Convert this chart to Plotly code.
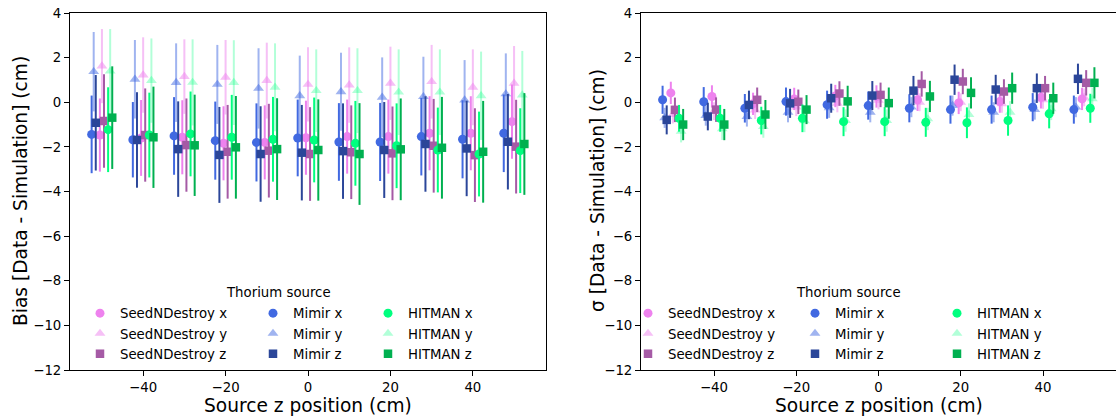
import plotly.graph_objects as go

# ---------------- data ----------------
z_positions = [-50, -40, -30, -20, -10, 0, 10, 20, 30, 40, 50]
x_ticks = [-40, -20, 0, 20, 40]
y_ticks = [-12, -10, -8, -6, -4, -2, 0, 2, 4]

series_names = ["SeedNDestroy x", "SeedNDestroy y", "SeedNDestroy z",
                "Mimir x", "Mimir y", "Mimir z",
                "HITMAN x", "HITMAN y", "HITMAN z"]

# Bias [Data - Simulation] (cm)
bias_snd_x = [-1.47, -1.60, -1.57, -1.84, -1.80, -1.59, -1.54, -1.54, -1.39, -1.39, -0.87]
bias_snd_y = [1.62, 1.22, 1.15, 1.12, 0.97, 0.80, 0.77, 0.85, 0.92, 0.67, 0.85]
bias_snd_z = [-0.84, -1.47, -1.92, -2.22, -2.17, -2.32, -2.24, -2.29, -1.95, -2.37, -1.99]
bias_mim_x = [-1.44, -1.68, -1.51, -1.72, -1.80, -1.60, -1.78, -1.78, -1.54, -1.66, -1.39]
bias_mim_y = [1.37, 1.03, 0.88, 0.80, 0.62, 0.29, 0.47, 0.22, 0.25, 0.10, 0.37]
bias_mim_z = [-0.92, -1.69, -2.10, -2.36, -2.32, -2.26, -2.19, -2.14, -1.87, -2.07, -1.77]
bias_hit_x = [-1.23, -1.47, -1.42, -1.57, -1.66, -1.69, -1.84, -1.95, -2.14, -2.32, -2.17]
bias_hit_y = [1.39, 0.97, 0.89, 0.88, 0.67, 0.52, 0.52, 0.45, 0.45, 0.29, 0.32]
bias_hit_z = [-0.69, -1.57, -1.93, -2.02, -2.10, -2.14, -2.32, -2.11, -2.04, -2.22, -1.87]

bias_err_snd_x = [1.64, 1.70, 1.66, 1.66, 1.66, 1.66, 1.66, 1.66, 1.66, 1.66, 1.66]
bias_err_snd_y = [1.66, 1.69, 1.67, 1.67, 1.70, 1.66, 1.69, 1.64, 1.65, 1.70, 1.67]
bias_err_snd_z = [2.10, 2.09, 2.09, 2.10, 2.10, 2.10, 2.10, 2.10, 2.10, 2.10, 2.10]
bias_err_mim_x = [1.74, 1.69, 1.74, 1.75, 1.75, 1.72, 1.74, 1.75, 1.74, 1.75, 1.74]
bias_err_mim_y = [1.78, 1.76, 1.76, 1.77, 1.80, 1.80, 1.75, 1.79, 1.79, 1.79, 1.82]
bias_err_mim_z = [2.14, 2.14, 2.14, 2.15, 2.14, 2.14, 2.14, 2.15, 2.14, 2.14, 2.14]
bias_err_hit_x = [1.90, 1.90, 1.90, 1.90, 1.90, 1.90, 1.90, 1.90, 1.90, 1.90, 1.90]
bias_err_hit_y = [1.89, 1.89, 1.93, 1.90, 1.97, 1.85, 1.90, 1.92, 1.92, 1.98, 1.98]
bias_err_hit_z = [2.30, 2.27, 2.27, 2.30, 2.28, 2.27, 2.28, 2.28, 2.28, 2.28, 2.28]

# sigma [Data - Simulation] (cm)
sig_snd_x = [0.42, 0.26, -0.07, 0.15, 0.28, 0.26, 0.11, -0.03, 0.03, 0.22, 0.15]
sig_snd_y = [-0.55, -0.40, -0.35, -0.22, -0.05, 0.08, 0.00, 0.00, -0.07, 0.11, 0.22]
sig_snd_z = [-0.34, -0.33, 0.11, 0.02, 0.39, 0.33, 0.82, 0.93, 0.48, 0.63, 0.87]
sig_mim_x = [0.11, 0.02, -0.27, 0.03, -0.11, -0.15, -0.27, -0.33, -0.33, -0.22, -0.33]
sig_mim_y = [-0.70, -0.60, -0.64, -0.45, -0.25, -0.45, -0.22, -0.15, -0.45, -0.33, -0.22]
sig_mim_z = [-0.79, -0.64, -0.12, -0.05, 0.18, 0.30, 0.52, 1.01, 0.57, 0.63, 1.05]
sig_hit_x = [-0.72, -0.72, -0.82, -0.72, -0.87, -0.87, -0.90, -0.92, -0.82, -0.52, -0.27]
sig_hit_y = [-1.30, -1.19, -1.09, -0.84, -0.82, -0.82, -0.75, -0.55, -0.45, -0.30, 0.15]
sig_hit_z = [-1.00, -1.00, -0.55, -0.33, 0.04, -0.04, 0.26, 0.42, 0.63, 0.18, 0.87]

sig_err_snd_x = [0.50, 0.50, 0.50, 0.50, 0.50, 0.50, 0.50, 0.50, 0.50, 0.50, 0.50]
sig_err_snd_y = [0.40, 0.40, 0.40, 0.40, 0.40, 0.40, 0.40, 0.40, 0.40, 0.40, 0.40]
sig_err_snd_z = [0.55, 0.55, 0.55, 0.55, 0.55, 0.55, 0.57, 0.57, 0.55, 0.55, 0.57]
sig_err_mim_x = [0.63, 0.66, 0.64, 0.63, 0.63, 0.63, 0.63, 0.63, 0.63, 0.63, 0.63]
sig_err_mim_y = [0.45, 0.45, 0.45, 0.45, 0.45, 0.45, 0.45, 0.45, 0.45, 0.45, 0.45]
sig_err_mim_z = [0.65, 0.62, 0.64, 0.65, 0.65, 0.65, 0.66, 0.68, 0.66, 0.66, 0.68]
sig_err_hit_x = [0.60, 0.60, 0.62, 0.62, 0.65, 0.65, 0.65, 0.69, 0.68, 0.65, 0.65]
sig_err_hit_y = [0.50, 0.50, 0.50, 0.50, 0.50, 0.50, 0.50, 0.50, 0.50, 0.50, 0.50]
sig_err_hit_z = [0.70, 0.70, 0.65, 0.65, 0.70, 0.70, 0.70, 0.70, 0.70, 0.70, 0.70]

bias_values = [bias_snd_x, bias_snd_y, bias_snd_z, bias_mim_x, bias_mim_y, bias_mim_z,
               bias_hit_x, bias_hit_y, bias_hit_z]
bias_errors = [bias_err_snd_x, bias_err_snd_y, bias_err_snd_z, bias_err_mim_x, bias_err_mim_y,
               bias_err_mim_z, bias_err_hit_x, bias_err_hit_y, bias_err_hit_z]
sig_values = [sig_snd_x, sig_snd_y, sig_snd_z, sig_mim_x, sig_mim_y, sig_mim_z,
              sig_hit_x, sig_hit_y, sig_hit_z]
sig_errors = [sig_err_snd_x, sig_err_snd_y, sig_err_snd_z, sig_err_mim_x, sig_err_mim_y,
              sig_err_mim_z, sig_err_hit_x, sig_err_hit_y, sig_err_hit_z]

# ---------------- style ----------------
colors = ["#EE82EE", "rgba(238,130,238,0.5)", "#A55AA5",
          "#4169E1", "rgba(65,105,225,0.5)", "#2B4699",
          "#00FF7F", "rgba(0,255,127,0.3)", "#00B050"]
symbols = ["circle", "triangle-up", "square"] * 3
sizes = [9, 9.5, 8.5] * 3
dodge = [-0.5, 0.0, 0.5, -2.5, -2.0, -1.5, 1.5, 2.0, 2.5]

FONT = "DejaVu Sans"
W, H = 1116, 419

fig = go.Figure()

for panel, (vals, errs) in enumerate([(bias_values, bias_errors), (sig_values, sig_errors)]):
    for i, name in enumerate(series_names):
        leg_idx = panel * 3 + i // 3 + 1
        legend_name = "legend" if leg_idx == 1 else f"legend{leg_idx}"
        fig.add_trace(go.Scatter(
            x=[z + dodge[i] for z in z_positions],
            y=vals[i],
            mode="markers",
            name=name,
            legend=legend_name,
            marker=dict(symbol=symbols[i], size=sizes[i], color=colors[i], line=dict(width=0)),
            error_y=dict(type="data", array=errs[i], visible=True, color=colors[i],
                         thickness=2, width=0),
            xaxis="x" if panel == 0 else "x2",
            yaxis="y" if panel == 0 else "y2",
        ))

def px_x(p):
    return p / W

def px_y(p):
    return 1 - p / H

axis_common = dict(showline=True, linecolor="black", linewidth=1, mirror=True,
                   ticks="outside", ticklen=5, tickwidth=1, tickcolor="black",
                   showgrid=False, zeroline=False, automargin=False,
                   tickfont=dict(family=FONT, size=13.3, color="black"))

fig.update_layout(
    width=W, height=H,
    margin=dict(l=0, r=0, t=0, b=0, pad=0, autoexpand=False),
    paper_bgcolor="white", plot_bgcolor="white",
    font=dict(family=FONT, size=13.3, color="black"),
    xaxis=dict(domain=[px_x(70), px_x(546)], range=[-57.75, 57.75], tickvals=x_ticks,
               anchor="y", **axis_common),
    yaxis=dict(domain=[px_y(370), px_y(13)], range=[-12, 4], tickvals=y_ticks,
               anchor="x", **axis_common),
    xaxis2=dict(domain=[px_x(641), 1.0], range=[-57.75, 57.75], tickvals=x_ticks,
                anchor="y2", **axis_common),
    yaxis2=dict(domain=[px_y(370), px_y(13)], range=[-12, 4], tickvals=y_ticks,
                anchor="x2", **axis_common),
)

# legends: three columns per panel
leg_cols_left = [80, 253, 368]
leg_cols_right = [628, 795, 937]
leg_top = 298
for k, xp in enumerate(leg_cols_left + leg_cols_right):
    key = "legend" if k == 0 else f"legend{k + 1}"
    fig.update_layout(**{key: dict(
        x=px_x(xp), y=px_y(leg_top), xanchor="left", yanchor="top",
        orientation="v", bgcolor="rgba(0,0,0,0)", borderwidth=0,
        font=dict(family=FONT, size=13.3, color="black"),
        itemclick=False, itemdoubleclick=False,
    )})

annotations = [
    dict(text="Thorium source", x=px_x(278), y=px_y(292), xref="paper", yref="paper",
         xanchor="center", yanchor="middle", showarrow=False, font=dict(family=FONT, size=13.3)),
    dict(text="Thorium source", x=px_x(848), y=px_y(292), xref="paper", yref="paper",
         xanchor="center", yanchor="middle", showarrow=False, font=dict(family=FONT, size=13.3)),
    dict(text="Source z position (cm)", x=px_x(308), y=px_y(405), xref="paper", yref="paper",
         xanchor="center", yanchor="middle", showarrow=False, font=dict(family=FONT, size=18.6)),
    dict(text="Source z position (cm)", x=px_x(879), y=px_y(405), xref="paper", yref="paper",
         xanchor="center", yanchor="middle", showarrow=False, font=dict(family=FONT, size=18.6)),
    dict(text="Bias [Data - Simulation] (cm)", x=px_x(20), y=px_y(191), xref="paper", yref="paper",
         xanchor="center", yanchor="middle", textangle=-90, showarrow=False,
         font=dict(family=FONT, size=18.6)),
    dict(text="σ [Data - Simulation] (cm)", x=px_x(597), y=px_y(191), xref="paper", yref="paper",
         xanchor="center", yanchor="middle", textangle=-90, showarrow=False,
         font=dict(family=FONT, size=18.6)),
]
fig.update_layout(annotations=annotations)

fig.write_html(
    "out.html",
    config={"displayModeBar": False},
    post_script="document.body.style.margin='0';document.body.style.padding='0';"
                "document.body.style.overflow='hidden';",
)
